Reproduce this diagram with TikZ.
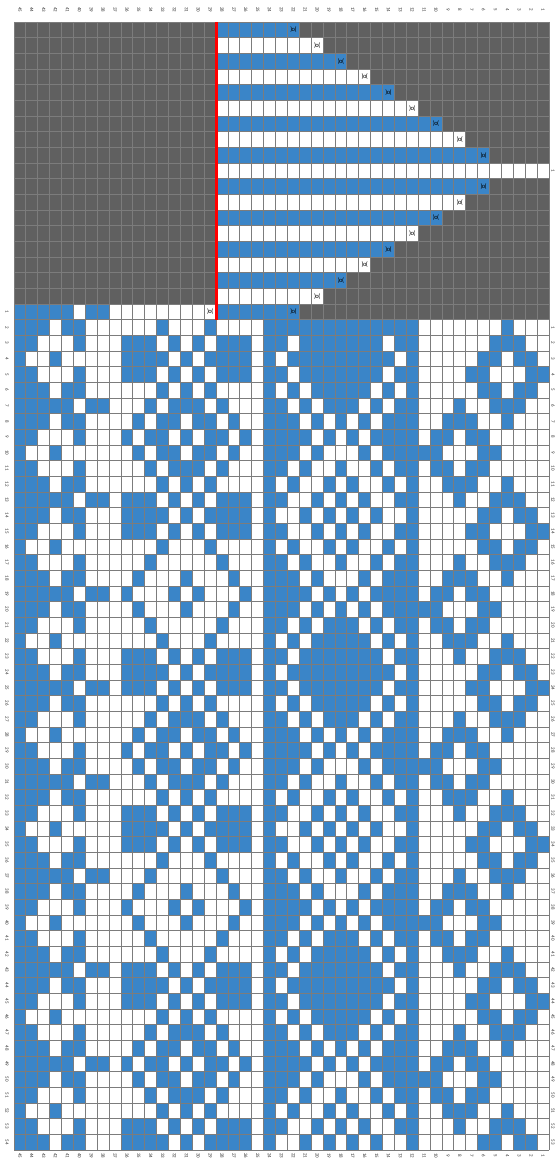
\documentclass[tikz,border=0pt]{standalone}
\usepackage{fontspec}
\setmainfont{Carlito}
\definecolor{bl}{HTML}{3A85C8}
\definecolor{dg}{HTML}{606060}
\definecolor{gl}{HTML}{7C7C7C}
% colour of one pattern cell: #1 = column index j (0 = col 45), #2 = row index g
\newcommand\cellcol[2]{%
 \def\pCol{0}%
 \ifnum#1<8\relax
   \pgfmathtruncatemacro\zS{mod(#2-18,6)}%
   \ifcase\zS \def\zC{251}\or\def\zC{236}\or\def\zC{196}\or\def\zC{144}\or\def\zC{196}\or\def\zC{236}\fi
   \pgfmathtruncatemacro\pCol{mod(floor(\zC/(2^(7-#1))),2)}%
 \else\ifnum#1<21\relax
   \pgfmathtruncatemacro\zA{abs(#1-14)}%
   \ifnum\zA<6\relax
     \pgfmathtruncatemacro\zP{mod(#2-21+100,10)}%
     \pgfmathtruncatemacro\zD{min(\zP,10-\zP)}%
     \ifnum\zA=\zD\relax \def\pCol{1}%
     \else\ifnum\zA<\zD\relax
       \pgfmathtruncatemacro\zM{\zA+abs(\zP-5)}%
       \pgfmathtruncatemacro\zN{mod((#2-\zP+5-26)/10+100,2)}%
       \pgfmathtruncatemacro\pCol{\zN==0 ? (\zM==0||\zM==2||\zM==3) : (\zM==1)}%
     \else
       \pgfmathtruncatemacro\zM{5-\zA+\zD}%
       \pgfmathtruncatemacro\pCol{(\zD<2)&&(\zM<4)}%
     \fi\fi
   \fi
 \else\ifnum#1=21\relax \def\pCol{1}%
 \else\ifnum#1<33\relax
   \ifnum#2=19\relax \def\pCol{1}\else
     \pgfmathtruncatemacro\zA{abs(#1-27)}%
     \pgfmathtruncatemacro\zQ{mod(#2-26+100,10)}%
     \pgfmathtruncatemacro\zD{min(\zQ,10-\zQ)}%
     \ifnum\zA=\zD\relax \def\pCol{0}%
     \else\ifnum\zA<\zD\relax
       \pgfmathtruncatemacro\zM{\zA+abs(\zQ-5)}%
       \pgfmathtruncatemacro\zN{mod((#2-\zQ+5-21)/10+100,2)}%
       \pgfmathtruncatemacro\pCol{\zN==0 ? 1 : (\zM==1||\zM==3)}%
     \else
       \pgfmathtruncatemacro\zM{5-\zA+\zD}%
       \pgfmathtruncatemacro\pCol{\zM==3 ? 0 : 1}%
     \fi\fi
   \fi
 \else\ifnum#1=33\relax \def\pCol{1}%
 \else
   \pgfmathtruncatemacro\zGA{22+10*round((#2-22)/10)}%
   \pgfmathtruncatemacro\zMA{abs(#1-41)+abs(#2-\zGA)}%
   \pgfmathtruncatemacro\zGB{max(27,27+10*round((#2-27)/10))}%
   \pgfmathtruncatemacro\zMB{abs(#1-37)+abs(#2-\zGB)}%
   \pgfmathtruncatemacro\pCol{((\zMA>1)&&(\zMA<4))||((\zMB>1)&&(\zMB<4))}%
 \fi\fi\fi\fi\fi}
\tikzset{
  lab/.style={font=\fontsize{5}{5}\selectfont, inner sep=0pt, rotate=-90, text=black!80},
  xm/.style={font=\fontsize{6.5}{6.5}\selectfont, inner sep=0pt},
  gridline/.style={gl, line width=0.9pt},
}
\begin{document}
\begin{tikzpicture}[x=11.8889pt,y=-15.6667pt]
\path[use as bounding box] (-1.17757,-1.40425) rectangle (45.6729,72.7660);
% top-left grey block
\fill[dg] (0,0) rectangle (17,18);
% heel triangle
\foreach \t in {1,...,19}{
  \pgfmathtruncatemacro\g{\t-1}
  \pgfmathtruncatemacro\xj{\t<10 ? 21+2*\t : 61-2*\t}
  \pgfmathtruncatemacro\odd{mod(\t,2)}
  \ifnum\t=10
    \fill[white] (17,\g) rectangle (45,\g+1);
  \else
    \ifnum\odd=1 \fill[bl] (17,\g) rectangle (\xj+1,\g+1);
    \else \fill[white] (17,\g) rectangle (\xj+1,\g+1); \fi
    \fill[dg] (\xj+1,\g) rectangle (45,\g+1);
    \node[xm] (x\t) at (\xj+0.5,\g+0.5) {)\kern-0.6pt o\kern-0.6pt(};
  \fi
}
% pattern
\foreach \j in {0,...,7}{\cellcol{\j}{18}\ifnum\pCol=1 \fill[bl] (\j,18) rectangle ++(1,1);\fi}
\foreach \g in {19,...,71}{\foreach \j in {0,...,44}{\cellcol{\j}{\g}\ifnum\pCol=1 \fill[bl] (\j,\g) rectangle ++(1,1);\fi}}
\node[xm] (x0) at (16.5,18.5) {)\kern-0.6pt o\kern-0.6pt(};
% grid
\foreach \j in {0,...,45}{\draw[gridline] (\j,0) -- (\j,72);}
\foreach \g in {0,...,72}{\draw[gridline] (0,\g) -- (45,\g);}
% red line
\coordinate (rt) at (17,0); \coordinate (rb) at (17,19);
\draw[red, line width=3pt] (rt) -- (rb);
% labels
\foreach \j in {0,...,44}{
  \pgfmathtruncatemacro\n{45-\j}
  \node[lab] (ct\j) at (\j+0.5,-0.77) {\n};
  \node[lab] (cb\j) at (\j+0.5,72.38) {\n};
}
\foreach \r in {1,...,54}{\node[lab] (rl\r) at (-0.59,\r+17.5) {\r};}
\foreach \r in {1,...,53}{\node[lab] (rr\r) at (45.34,\r+18.5) {\r};}
\node[lab] (rm) at (45.34,9.5) {1};
\end{tikzpicture}
\end{document}
